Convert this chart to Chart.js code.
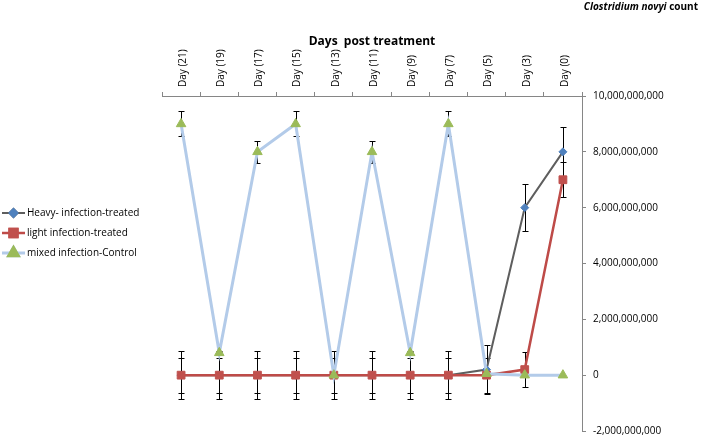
<!DOCTYPE html>
<html>
<head>
<meta charset="utf-8">
<script src="https://cdn.jsdelivr.net/npm/chart.js@4.4.0/dist/chart.umd.min.js"></script>
<style>
  html, body { margin: 0; padding: 0; background: #fff; }
</style>
</head>
<body>
<canvas id="chart" width="708" height="444"></canvas>
<script>
// --- Datos ---
const categories = ['Day (21)', 'Day (19)', 'Day (17)', 'Day (15)', 'Day (13)', 'Day (11)', 'Day (9)', 'Day (7)', 'Day (5)', 'Day (3)', 'Day (0)'];
const heavyValues = [0, 0, 0, 0, 0, 0, 0, 0, 2e8, 6e9, 8e9];
const heavyErrors = [8.7e8, 8.7e8, 8.7e8, 8.7e8, 8.7e8, 8.7e8, 8.7e8, 8.7e8, 8.7e8, 8.5e8, 8.8e8];
const lightValues = [0, 0, 0, 0, 0, 0, 0, 0, 0, 2e8, 7e9];
const lightErrors = [6.3e8, 6.3e8, 6.3e8, 6.3e8, 6.3e8, 6.3e8, 6.3e8, 6.3e8, 6.3e8, 6.3e8, 6.3e8];
const mixedValues = [9e9, 8e8, 8e9, 9e9, 0, 8e9, 8e8, 9e9, 5e7, 0, 0];
const mixedErrors = [4.5e8, 4e7, 4e8, 4.5e8, 0, 4e8, 4e7, 4.5e8, 0, 0, 0];
const yTicks = [-2e9, 0, 2e9, 4e9, 6e9, 8e9, 1e10];
const seriesLabels = ['Heavy- infection-treated', 'light infection-treated', 'mixed infection-Control'];

const FONT = "'Open Sans', 'Noto Sans', sans-serif";

// --- Barras de error ---
const errorBarsPlugin = {
    id: 'errorBars',
    beforeDatasetsDraw(chart) {
        const ctx = chart.ctx;
        const y = chart.scales.y;
        ctx.save();
        ctx.strokeStyle = '#000';
        ctx.lineWidth = 1;
        chart.data.datasets.forEach((ds, i) => {
            const meta = chart.getDatasetMeta(i);
            meta.data.forEach((pt, j) => {
                const err = ds.errors[j];
                if (!err) return;
                const v = ds.data[j];
                const top = Math.round(y.getPixelForValue(v + err)) + 0.5;
                const bot = Math.round(y.getPixelForValue(v - err)) + 0.5;
                const x = Math.round(pt.x) + 0.5;
                ctx.beginPath();
                ctx.moveTo(x, top); ctx.lineTo(x, bot);
                ctx.moveTo(x - 3, top); ctx.lineTo(x + 3, top);
                ctx.moveTo(x - 3, bot); ctx.lineTo(x + 3, bot);
                ctx.stroke();
            });
        });
        ctx.restore();
    }
};

// --- Leyenda y título superior ---
const legendPlugin = {
    id: 'sideLegend',
    afterDraw(chart) {
        const ctx = chart.ctx;
        ctx.save();
        chart.data.datasets.forEach((ds, i) => {
            const ly = 213 + i * 20;
            ctx.strokeStyle = ds.borderColor;
            ctx.lineWidth = ds.borderWidth;
            ctx.beginPath();
            ctx.moveTo(2, ly); ctx.lineTo(25, ly);
            ctx.stroke();
            Chart.helpers.drawPoint(ctx, {
                pointStyle: ds.pointStyle,
                radius: ds.pointRadius,
                borderWidth: 1
            }, 13.5, ly);
            ctx.fillStyle = ds.pointBackgroundColor;
            ctx.strokeStyle = ds.pointBorderColor;
            ctx.fill();
            ctx.stroke();
            ctx.fillStyle = '#000';
            ctx.font = `10px ${FONT}`;
            ctx.textBaseline = 'middle';
            ctx.textAlign = 'left';
            ctx.fillText(ds.label, 27, ly);
        });

        ctx.textBaseline = 'middle';
        ctx.font = `bold 10px ${FONT}`;
        const rest = ' count';
        const wRest = ctx.measureText(rest).width;
        ctx.textAlign = 'right';
        ctx.fillText(rest, 698, 7);
        ctx.font = `italic bold 10px ${FONT}`;
        ctx.fillText('Clostridium novyi', 698 - wRest, 7);
        ctx.restore();
    }
};

const ctx = document.getElementById('chart').getContext('2d');
new Chart(ctx, {
    type: 'line',
    data: {
        labels: categories,
        datasets: [
            {
                label: seriesLabels[0],
                data: heavyValues,
                errors: heavyErrors,
                borderColor: '#5e5e5e',
                borderWidth: 2,
                pointStyle: 'rectRot',
                pointRadius: 4,
                pointBackgroundColor: '#4f81bd',
                pointBorderColor: '#4f81bd',
                pointBorderWidth: 1,
                tension: 0,
                order: 2
            },
            {
                label: seriesLabels[1],
                data: lightValues,
                errors: lightErrors,
                borderColor: '#be4b48',
                borderWidth: 2.5,
                pointStyle: 'rect',
                pointRadius: 5.5,
                pointBackgroundColor: '#c0504d',
                pointBorderColor: '#c0504d',
                pointBorderWidth: 1,
                tension: 0,
                order: 1
            },
            {
                label: seriesLabels[2],
                data: mixedValues,
                errors: mixedErrors,
                borderColor: '#b3cbe9',
                borderWidth: 3,
                pointStyle: 'triangle',
                pointRadius: 5.5,
                pointBackgroundColor: '#9bbb59',
                pointBorderColor: '#9bbb59',
                pointBorderWidth: 1,
                tension: 0,
                order: 0
            }
        ]
    },
    options: {
        responsive: false,
        animation: false,
        layout: { padding: { left: 162, top: 0, right: 0, bottom: 9 } },
        plugins: { legend: { display: false }, tooltip: { enabled: false } },
        scales: {
            x: {
                type: 'category',
                position: 'top',
                offset: true,
                grid: { display: true, drawOnChartArea: false, offset: true, tickLength: 4, color: '#868686' },
                border: { color: '#868686' },
                ticks: { minRotation: 90, maxRotation: 90, autoSkip: false, color: '#000', padding: 5, labelOffset: 14, font: { family: FONT, size: 10 } },
                title: { display: true, text: 'Days  post treatment', color: '#000', font: { family: FONT, size: 12, weight: 'bold' }, padding: { top: 34, bottom: 0 } },
                afterFit: s => { s.height = 96; }
            },
            y: {
                position: 'right',
                min: -2e9,
                max: 1e10,
                grid: { display: true, drawOnChartArea: false, tickLength: 4, color: '#868686' },
                border: { color: '#868686' },
                afterBuildTicks: s => { s.ticks = yTicks.map(v => ({ value: v })); },
                ticks: { color: '#000', padding: 7, font: { family: FONT, size: 10 }, callback: v => v.toLocaleString('en-US') },
                afterFit: s => { s.width = 126; }
            }
        }
    },
    plugins: [errorBarsPlugin, legendPlugin]
});
</script>
</body>
</html>
